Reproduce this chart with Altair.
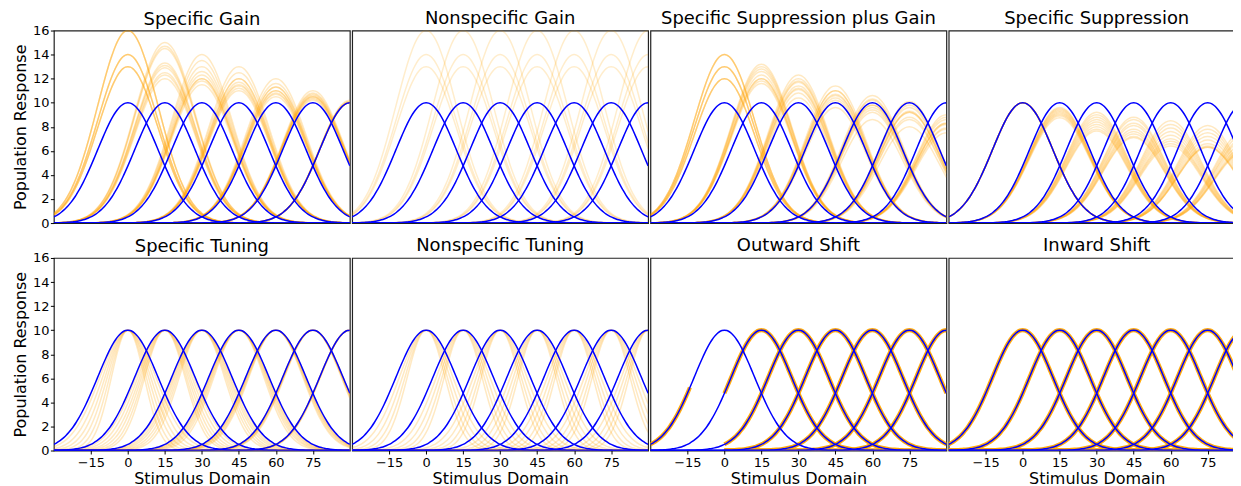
import altair as alt
import numpy as np
import pandas as pd

# ---------------- values ----------------
x_domain = [-30, 90]
y_domain = [0, 16]
x_ticks = [-15, 0, 15, 30, 45, 60, 75]
y_ticks = [0, 2, 4, 6, 8, 10, 12, 14, 16]

centers = [0, 15, 30, 45, 60, 75, 90]          # preferred stimuli of the tuning curves
base_peak = 10.0                                 # blue curves peak
base_sigma = 12.3                                # blue curves width (neighbours cross at ~8.3)

titles_row1 = ["Specific Gain", "Nonspecific Gain",
               "Specific Suppression plus Gain", "Specific Suppression"]
titles_row2 = ["Specific Tuning", "Nonspecific Tuning", "Outward Shift", "Inward Shift"]

# peak heights of orange curves, one list per line, one value per centre
specific_gain_peaks = [
    [16.0, 15.0, 14.0, 13.0, 12.0, 11.0, 10.0],
    [16.0, 14.7, 13.5, 12.5, 11.6, 10.8, 10.2],
    [16.0, 14.5, 13.0, 12.0, 11.3, 10.6, 10.1],
    [14.0, 13.3, 12.6, 12.0, 11.3, 10.7, 10.1],
    [14.0, 13.1, 12.3, 11.7, 11.0, 10.5, 10.0],
    [14.0, 12.9, 12.0, 11.4, 10.8, 10.4, 10.0],
    [13.0, 12.5, 12.0, 11.5, 11.0, 10.5, 10.0],
    [13.0, 12.3, 11.8, 11.2, 10.7, 10.3, 10.0],
    [13.0, 12.0, 11.5, 11.0, 10.5, 10.2, 10.0],
]
nonspecific_gain_peaks = [16.0, 14.0, 13.0]
supp_gain_peaks = [
    [14.0, 13.2, 12.3, 11.4, 10.6, 10.1, 9.0],
    [14.0, 13.0, 12.0, 11.0, 10.2, 9.6, 8.6],
    [14.0, 12.8, 11.7, 10.7, 9.8, 9.2, 8.3],
    [13.0, 12.6, 11.8, 11.0, 10.3, 9.8, 8.8],
    [13.0, 12.3, 11.4, 10.6, 9.8, 9.3, 8.2],
    [13.0, 12.0, 11.1, 10.2, 9.4, 8.8, 7.9],
    [12.0, 12.0, 11.2, 10.4, 9.6, 9.2, 8.3],
    [12.0, 11.8, 10.8, 10.0, 9.2, 8.6, 7.8],
    [12.0, 11.6, 10.4, 9.6, 8.6, 8.0, 7.5],
]
supp_peaks = [
    [10.0, 9.6, 9.2, 8.8, 8.5, 8.1, 7.7],
    [10.0, 9.5, 9.0, 8.6, 8.2, 7.8, 7.4],
    [10.0, 9.4, 8.8, 8.3, 7.9, 7.5, 7.1],
    [10.0, 9.3, 8.6, 8.1, 7.6, 7.2, 6.9],
    [10.0, 9.2, 8.4, 7.8, 7.3, 6.9, 6.6],
    [10.0, 9.1, 8.2, 7.6, 7.0, 6.6, 6.3],
    [10.0, 9.0, 8.0, 7.4, 6.8, 6.4, 6.1],
    [10.0, 8.9, 7.8, 7.2, 6.6, 6.3, 6.0],
    [10.0, 8.75, 7.65, 7.1, 6.4, 6.3, 5.9],
]
# widths of orange curves in the tuning panels
specific_tuning_sigmas = [
    [11.4, 11.8, 12.0, 12.1, 12.2, 12.3, 12.3],
    [10.3, 11.0, 11.5, 11.8, 12.0, 12.2, 12.3],
    [9.3, 10.2, 11.0, 11.5, 11.8, 12.1, 12.3],
    [8.4, 9.5, 10.4, 11.1, 11.6, 12.0, 12.2],
    [7.5, 8.8, 9.8, 10.7, 11.3, 11.8, 12.1],
    [6.7, 8.2, 9.2, 10.2, 11.0, 11.6, 12.0],
]
nonspecific_tuning_sigmas = [10.9, 9.7, 8.6, 7.7]
outward_centers = [15, 30, 45, 60, 75, 90]
outward_x_min = 0                                # outlined part of the shifted curves starts at 0
outward_zero_curve_x_max = -14                   # only the left tail of the 0 curve is outlined
inward_centers = [0, 15, 30, 45, 60, 75, 90]

# ---------------- build the curve tables ----------------
xs = np.arange(x_domain[0], x_domain[1] + 0.001, 1.0)


def curve_rows(key, c, peak, sigma):
    ys = peak * np.exp(-((xs - c) ** 2) / (2.0 * sigma ** 2))
    return pd.DataFrame({"line": key, "x": xs, "y": np.round(ys, 3)})


blue_df = pd.concat([curve_rows(f"b{c}", c, base_peak, base_sigma) for c in centers],
                    ignore_index=True)


def table_from_peaks(peaks_rows):
    return pd.concat([curve_rows(f"{i}_{c}", c, p, base_sigma)
                      for i, row in enumerate(peaks_rows)
                      for c, p in zip(centers, row)], ignore_index=True)


def table_from_sigmas(sig_rows):
    return pd.concat([curve_rows(f"{i}_{c}", c, base_peak, s)
                      for i, row in enumerate(sig_rows)
                      for c, s in zip(centers, row)], ignore_index=True)


zero_tail = curve_rows("o0", 0, base_peak, base_sigma)
zero_tail = zero_tail[zero_tail["x"] <= outward_zero_curve_x_max]
outward_df = pd.concat([curve_rows(f"o{c}", c, base_peak, base_sigma) for c in outward_centers],
                       ignore_index=True)
outward_df = outward_df[outward_df["x"] >= outward_x_min]

orange_tables = {
    "Specific Gain": table_from_peaks(specific_gain_peaks),
    "Nonspecific Gain": table_from_peaks([[p] * len(centers) for p in nonspecific_gain_peaks]),
    "Specific Suppression plus Gain": table_from_peaks(supp_gain_peaks),
    "Specific Suppression": table_from_peaks(supp_peaks),
    "Specific Tuning": table_from_sigmas(specific_tuning_sigmas),
    "Nonspecific Tuning": table_from_sigmas([[s] * len(centers) for s in nonspecific_tuning_sigmas]),
    "Outward Shift": pd.concat([zero_tail, outward_df], ignore_index=True),
    "Inward Shift": pd.concat([curve_rows(f"i{c}", c, base_peak, base_sigma) for c in inward_centers],
                              ignore_index=True),
}

thick_panels = {"Outward Shift", "Inward Shift"}

W, H = 296.7, 193


def panel(title, row, col):
    if row == 1:
        x_axis = alt.Axis(values=x_ticks, title="Stimulus Domain", domain=False,
                          tickSize=3.5, labelPadding=2.5, titlePadding=1, labelFlush=False)
    else:
        x_axis = None
    if col == 0:
        y_axis = alt.Axis(values=y_ticks, title="Population Response", domain=False,
                          tickSize=3.5, labelPadding=1.5, titlePadding=4)
    else:
        y_axis = None
    xe = alt.X("x:Q", scale=alt.Scale(domain=x_domain, nice=False, zero=False), axis=x_axis)
    ye = alt.Y("y:Q", scale=alt.Scale(domain=y_domain, nice=False), axis=y_axis)
    if title in thick_panels:
        omark = alt.Chart(orange_tables[title]).mark_line(
            color="#ffa500", strokeWidth=4.2, opacity=0.95, clip=True, interpolate="monotone")
    else:
        op = 0.2 if title == "Nonspecific Gain" else 0.24
        omark = alt.Chart(orange_tables[title]).mark_line(
            color="#ffa500", strokeWidth=1.5, opacity=op, clip=True, interpolate="monotone")
    orange = omark.encode(x=xe, y=ye, detail="line:N")
    blue = alt.Chart(blue_df).mark_line(
        color="#0000ff", strokeWidth=1.5, clip=True, interpolate="monotone"
    ).encode(x=xe, y=ye, detail="line:N")
    # the first column's y labels stick out above the plot; pull its title back down
    off = -4.0 if col == 0 else 2.5
    return alt.layer(orange, blue).properties(
        width=W, height=H,
        title=alt.TitleParams(title, fontSize=18, fontWeight="normal", font="DejaVu Sans",
                              color="black", offset=off, frame="group"),
    )


row1 = alt.hconcat(*[panel(t, 0, i) for i, t in enumerate(titles_row1)], spacing=0)
row2 = alt.hconcat(*[panel(t, 1, i) for i, t in enumerate(titles_row2)], spacing=0)

chart = alt.vconcat(row1, row2, spacing=5).properties(
    padding={"left": 3, "top": 0, "right": -13, "bottom": 0}
).configure_view(
    stroke="#222222", strokeWidth=1.2
).configure_axis(
    labelFont="DejaVu Sans", labelFontSize=13, labelColor="black",
    titleFont="DejaVu Sans", titleFontSize=16, titleFontWeight="normal", titleColor="black",
    tickColor="black", grid=False
).configure_concat(spacing=0)

chart.save("out.html", embed_options={"renderer": "svg", "actions": False})
